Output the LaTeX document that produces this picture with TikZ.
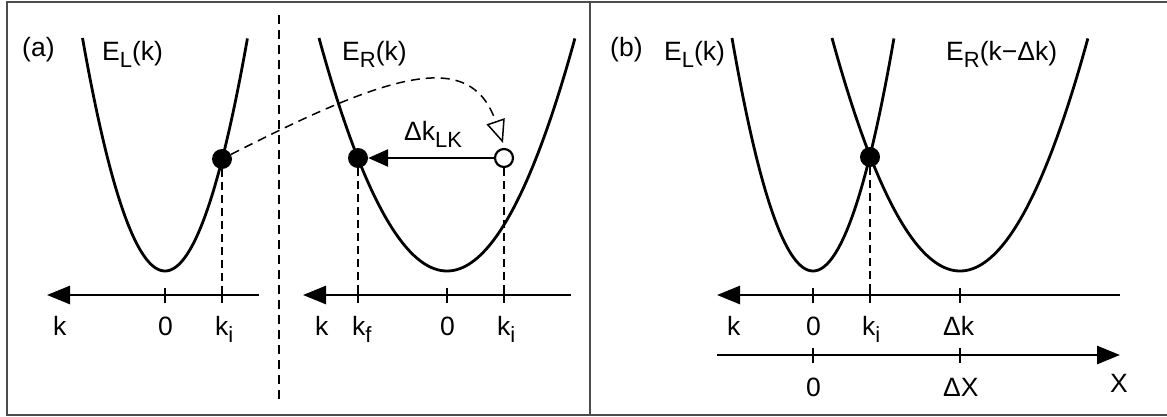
\documentclass[tikz,border=0pt]{standalone}
\usepackage{fontspec}
\setmainfont{Liberation Sans}
\usetikzlibrary{arrows.meta}
\newcommand\lsub[1]{\raisebox{-7pt}{\fontsize{22}{22}\selectfont #1}}
\begin{document}
\begin{tikzpicture}[x=1pt,y=-1pt,
  lbl/.style={anchor=base west,inner sep=0pt,font=\fontsize{26.5}{31}\selectfont},
  frame/.style={draw=black!70,line width=2pt},
  curve/.style={line width=2.8pt},
  axis/.style={line width=2.7pt},
  axtip/.style={-{Triangle[length=23pt,width=18pt]}},
  tick/.style={line width=2.6pt},
  vdash/.style={line width=1.4pt,dash pattern=on 8pt off 5pt},
  divider/.style={line width=1.5pt,dash pattern=on 9pt off 6pt},
  dcurve/.style={line width=1.5pt,dash pattern=on 9pt off 6pt,-{Triangle[open,length=23pt,width=19pt,line width=1.5pt]}},
  dot/.style={circle,fill=black,inner sep=0pt,minimum size=20pt},
  odot/.style={circle,draw=black,fill=white,line width=2.2pt,inner sep=0pt,minimum size=18pt}]
\useasboundingbox (0,0) rectangle (1167,416);
% frame
\draw[frame] (1167,2) -- (6.5,2) -- (6.5,415) -- (1167,415);
\draw[frame] (590,2) -- (590,415);
\draw[divider] (279,15) -- (279,400);

% ---------- panel (a) left ----------
\node[lbl] (la) at (22,56) {(a)};
\node[lbl] (ELa) at (102,60) {E\lsub{L}(k)};
\draw[curve] plot[domain=-1:1,samples=90,smooth] ({165+82.5*\x},{271-233*\x*\x});
\coordinate (aL0) at (165,295);
\coordinate (aLi) at (222,295);
\coordinate (aLs) at (259,295);
\coordinate (aLe) at (47,295);
\draw[axis,axtip] (aLs) -- (aLe);
\foreach \c in {aL0,aLi} \draw[tick] (\c) ++(0,-7.5) -- ++(0,15);
\node[dot] (dL) at (222,159) {};
\draw[vdash] (dL) -- (aLi);
\node[lbl] (kaL) at (53,335) {k};
\node[lbl] (zaL) at (158,335) {0};
\node[lbl] (kiaL) at (215,335) {k\lsub{i}};

% ---------- panel (a) right ----------
\node[lbl] (ERa) at (342,60) {E\lsub{R}(k)};
\draw[curve] plot[domain=-1:1,samples=90,smooth] ({447+128*\x},{271-233*\x*\x});
\coordinate (aR0) at (447,295);
\coordinate (aRf) at (358,295);
\coordinate (aRi) at (504,295);
\coordinate (aRs) at (571,295);
\coordinate (aRe) at (303,295);
\draw[axis,axtip] (aRs) -- (aRe);
\foreach \c in {aR0,aRf,aRi} \draw[tick] (\c) ++(0,-7.5) -- ++(0,15);
\node[dot] (dR) at (358,158) {};
\node[odot] (oR) at (504,158) {};
\draw[vdash] (dR) -- (aRf);
\draw[vdash] (oR) -- (aRi);
\draw[axis,-{Triangle[length=20pt,width=17pt]}] (oR) -- (dR);
\node[lbl] (dk) at (404,140) {Δk\lsub{LK}};
\coordinate (tipR) at (503,143);
\draw[dcurve] (dL) .. controls (385,76) and (470,46) .. (tipR);
\node[lbl] (kaR) at (315,335) {k};
\node[lbl] (kfaR) at (352,335) {k\lsub{f}};
\node[lbl] (zaR) at (440,335) {0};
\node[lbl] (kiaR) at (497,335) {k\lsub{i}};

% ---------- panel (b) ----------
\node[lbl] (lb) at (610,56) {(b)};
\node[lbl] (ELb) at (664,60) {E\lsub{L}(k)};
\node[lbl] (ERb) at (946,60) {E\lsub{R}(k−Δk)};
\draw[curve] plot[domain=-1:1,samples=90,smooth] ({813+81*\x},{271-233*\x*\x});
\draw[curve] plot[domain=-1:1,samples=90,smooth] ({960+128*\x},{271-233*\x*\x});
\coordinate (b0) at (813,295);
\coordinate (bi) at (870,295);
\coordinate (bd) at (960,295);
\coordinate (bs) at (1120,295);
\coordinate (be) at (717,295);
\draw[axis,axtip] (bs) -- (be);
\foreach \c in {b0,bi,bd} \draw[tick] (\c) ++(0,-7.5) -- ++(0,15);
\coordinate (x0) at (813,355);
\coordinate (xd) at (960,355);
\coordinate (xs) at (717,355);
\coordinate (xe) at (1120,355);
\draw[axis,axtip] (xs) -- (xe);
\foreach \c in {x0,xd} \draw[tick] (\c) ++(0,-7.5) -- ++(0,15);
\node[dot] (db) at (870,157) {};
\draw[vdash] (db) -- (bi);
\node[lbl] (kb) at (727,335) {k};
\node[lbl] (zb) at (806,335) {0};
\node[lbl] (kib) at (862,335) {k\lsub{i}};
\node[lbl] (dkb) at (943,335) {Δk};
\node[lbl] (zx) at (806,396) {0};
\node[lbl] (dX) at (943,396) {ΔX};
\node[lbl] (X) at (1110,392) {X};
\end{tikzpicture}
\end{document}
